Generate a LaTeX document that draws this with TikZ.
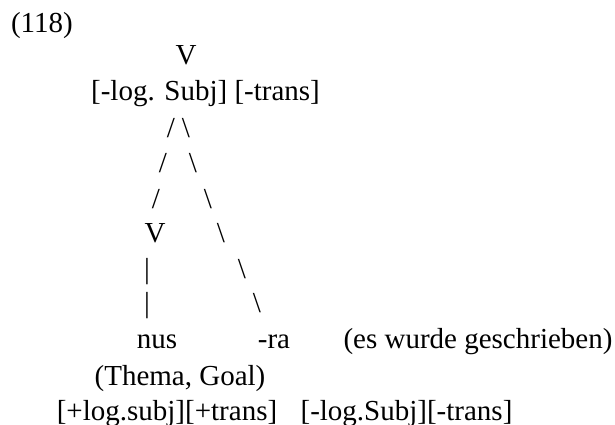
\documentclass[tikz,border=0pt]{standalone}
\usepackage{fontspec}
\setmainfont{Liberation Serif}
\begin{document}
\begin{tikzpicture}[x=1pt, y=-1pt,
  txt/.style={anchor=base, inner sep=0pt, outer sep=0pt,
    font=\fontsize{29}{35}\selectfont},
  glyph/.style={txt}]
\useasboundingbox (0,0) rectangle (615,425);

% example number
\node[txt, anchor=base west] (num) at (11,33) {(118)};

% root with its features
\node[txt] (vtop) at (186,65) {V};
\node[txt] (feat) at (205.5,101) {[-log. Subj] [-trans]};

% branches typed as slashes
\node[glyph] (l1) at (171,137) {/};
\node[glyph] (r1) at (186,137) {\textbackslash};
\node[glyph] (l2) at (163,172) {/};
\node[glyph] (r2) at (193,172) {\textbackslash};
\node[glyph] (l3) at (156,208) {/};
\node[glyph] (r3) at (208,208) {\textbackslash};

% inner verb node
\node[txt] (vlow) at (155,242) {V};
\node[glyph] (r4) at (221,242) {\textbackslash};
\node[glyph] (b1) at (147,278) {|};
\node[glyph] (r5) at (242,278) {\textbackslash};
\node[glyph] (b2) at (147,312) {|};
\node[glyph] (r6) at (257,312) {\textbackslash};

% leaves
\node[txt] (nus) at (157,348) {nus};
\node[txt] (ra) at (274,348) {-ra};
\node[txt] (gloss) at (478,348) {(es wurde geschrieben)};
\node[txt] (thema) at (180,385) {(Thema, Goal)};
\node[txt] (featl) at (167,420) {[+log.subj][+trans]};
\node[txt] (featr) at (406.5,420) {[-log.Subj][-trans]};
\end{tikzpicture}
\end{document}
